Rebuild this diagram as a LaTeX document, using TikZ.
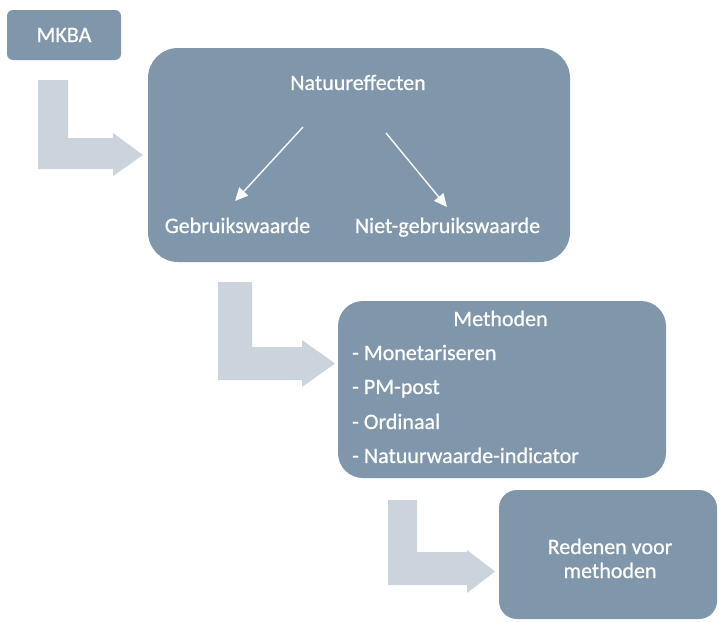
\documentclass[tikz,border=0pt]{standalone}
\usepackage{fontspec}
\setmainfont{Carlito}[FakeBold=0.7]
\usetikzlibrary{arrows.meta}
\definecolor{boxfill}{HTML}{7F96AB}
\definecolor{bentarrow}{HTML}{CBD3DC}
\begin{document}
\begin{tikzpicture}[x=1pt,y=-1pt,
  boxshape/.style={fill=boxfill,draw=none},
  bentshape/.style={fill=bentarrow,draw=none},
  lbl/.style={text=white,inner sep=0pt,font=\fontsize{22}{26}\selectfont},
  inarrow/.style={draw=white!94!boxfill,line width=1.4pt,-{Triangle[length=13pt,width=12pt]}}]
\useasboundingbox (0,0) rectangle (719,621);
% boxes
\fill[boxshape,rounded corners=6pt] (7,10) rectangle (121,60);
\fill[boxshape,rounded corners=30pt] (148,48) rectangle (570,262);
\fill[boxshape,rounded corners=25pt] (338,301) rectangle (666,478);
\fill[boxshape,rounded corners=18pt] (499,490) rectangle (717,619);
% bent arrows
\fill[bentshape] (38,80) -- (68,80) -- (68,138) -- (113,138) -- (113,133) -- (143,155) -- (113,176) -- (113,169) -- (38,169) -- cycle;
\fill[bentshape] (218,282) -- (252,282) -- (252,347) -- (302,347) -- (302,340) -- (335,363.5) -- (302,387) -- (302,380) -- (218,380) -- cycle;
\fill[bentshape] (388,500) -- (417,500) -- (417,552) -- (467,552) -- (467,550) -- (495,571.5) -- (467,593) -- (467,585) -- (388,585) -- cycle;
% texts
\node[lbl,anchor=base] (mkba) at (64,42) {MKBA};
\node[lbl,anchor=base] (nat) at (358,90) {Natuureffecten};
\node[lbl,anchor=base] (geb) at (237.5,233) {Gebruikswaarde};
\node[lbl,anchor=base] (niet) at (447.5,233) {Niet-gebruikswaarde};
\node[lbl,anchor=base] (meth) at (500.5,326) {Methoden};
\node[lbl,anchor=base west] (m1) at (352,360) {- Monetariseren};
\node[lbl,anchor=base west] (m2) at (352,394) {- PM-post};
\node[lbl,anchor=base west] (m3) at (352,429) {- Ordinaal};
\node[lbl,anchor=base west] (m4) at (352,463) {- Natuurwaarde-indicator};
\node[lbl,anchor=base] (red1) at (610,554) {Redenen voor};
\node[lbl,anchor=base] (red2) at (610,578) {methoden};
% inner arrows
\coordinate (a1s) at (303,127);
\coordinate (a1e) at (235,201);
\coordinate (a2s) at (386,133);
\coordinate (a2e) at (447,207);
\draw[inarrow] (a1s) -- (a1e);
\draw[inarrow] (a2s) -- (a2e);
\end{tikzpicture}
\end{document}
